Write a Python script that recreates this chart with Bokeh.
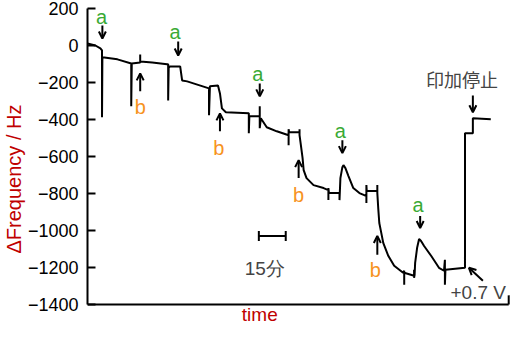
from bokeh.plotting import figure
from bokeh.models import Range1d, FixedTicker, Label, Arrow, OpenHead, Title
from bokeh.embed import file_html
from bokeh.resources import INLINE

# ---- data (time in minutes, frequency shift in Hz) ----
time_min = [0, 4.4, 7.2, 8.1, 8.1, 8.3, 9.4, 16.7, 24.4, 24.4, 24.7, 29.4, 29.4, 29.4,
            36.1, 44.4, 45.0, 45.0, 45.3, 46.1, 51.7, 52.8, 55.6, 67.8, 67.8, 68.3,
            72.8, 73.9, 75.0, 77.2, 90.0, 90.0, 90.3, 96.1, 96.1, 96.1, 96.7, 97.8,
            100.0, 105.6, 112.2, 112.2, 112.2, 112.5, 118.3, 118.3, 118.3, 118.9,
            120.0, 120.6, 122.2, 126.1, 131.7, 134.4, 134.4, 134.4, 134.7, 140.6,
            140.6, 141.1, 142.2, 142.8, 143.9, 145.6, 148.3, 151.7, 154.4, 155.6,
            155.6, 155.6, 155.8, 161.7, 161.7, 161.7, 162.2, 162.8, 163.9, 165.0,
            167.8, 171.1, 176.1, 176.7, 176.7, 176.7, 182.2, 182.2, 182.2, 182.5,
            182.8, 183.9, 185.0, 186.1, 187.8, 191.7, 196.1, 198.9, 199.4, 199.4,
            199.7, 210.6, 210.6, 215.0, 215.0, 225.0]
freq_hz = [11, 0, -16, -27, -388, -65, -65, -75, -97, -329, -97, -92, -49, -86,
           -92, -102, -102, -297, -119, -113, -113, -189, -194, -232, -377, -221,
           -216, -259, -340, -361, -367, -474, -383, -383, -329, -447, -394, -410,
           -442, -464, -485, -539, -453, -469, -469, -453, -485, -528,
           -609, -674, -717, -755, -771, -782, -836, -771, -798, -798,
           -836, -717, -658, -647, -663, -706, -771, -798, -809, -814,
           -852, -755, -787, -787, -755, -798, -879, -960, -1013, -1067,
           -1137, -1191, -1229, -1218, -1294, -1229, -1245, -1213, -1256, -1240,
           -1175, -1094, -1046, -1057, -1084, -1137, -1202, -1218, -1159, -1294,
           -1213, -1202, -474, -474, -394, -399]

y_ticks = [200, 0, -200, -400, -600, -800, -1000, -1200, -1400]
y_min, y_max = -1400, 200
x_end = 235
x_title = "time"
y_title = "ΔFrequency / Hz"

# injection markers: (label, label_t, label_f, arrow_t, f_start, f_end)
markers = [
    ("a", 7.8, 156, 8.3, 108, 38),
    ("b", 29.4, -334, 29.4, -248, -151),
    ("a", 48.9, 75, 50.6, 22, -54),
    ("b", 73.3, -555, 73.9, -464, -367),
    ("a", 95.0, -156, 96.1, -205, -275),
    ("b", 117.8, -809, 117.8, -717, -620),
    ("a", 141.1, -464, 142.2, -512, -582),
    ("b", 160.6, -1213, 161.7, -1132, -1030),
    ("a", 184.4, -863, 185.6, -922, -987),
]
scale_start, scale_len, scale_f = 95.6, 15, -1030

GREEN = "#3aaa35"
ORANGE = "#f7931e"
DARKRED = "#c00000"
FONT = "Liberation Sans"

# the frame runs down to the bottom of the figure so that the x title fits;
# the y axis line is bounded to the data range and the x axis is drawn at y_min
p = figure(width=510, height=325, output_backend="svg", toolbar_location=None,
           x_range=Range1d(0, 236), y_range=Range1d(-1514, y_max),
           x_axis_location=None,
           min_border_left=87, min_border_right=0, min_border_top=8,
           min_border_bottom=0)
p.outline_line_color = None
p.xgrid.visible = False
p.ygrid.visible = False
p.background_fill_color = "white"
p.border_fill_color = "white"

p.yaxis.bounds = (y_min, y_max)
p.yaxis.ticker = FixedTicker(ticks=y_ticks)
p.yaxis.major_tick_in = 8
p.yaxis.major_tick_out = 0
p.yaxis.minor_tick_line_color = None
p.yaxis.axis_line_width = 2
p.yaxis.major_tick_line_width = 2
p.yaxis.major_label_text_font = FONT
p.yaxis.major_label_text_font_size = "18px"
p.yaxis.major_label_text_color = "black"
p.yaxis.major_label_standoff = 9

p.add_layout(Title(text=y_title, align="left", offset=72, text_font=FONT,
                   text_font_size="20px", text_font_style="normal",
                   text_color=DARKRED, standoff=0), "left")

# x axis line with its end tick
p.segment(x0=[0], y0=[y_min], x1=[x_end], y1=[y_min], line_color="black", line_width=2)
p.segment(x0=[x_end], y0=[y_min], x1=[x_end], y1=[y_min + 49], line_color="black",
          line_width=2)
p.add_layout(Label(x=96.1, y=-1454, text=x_title, text_color=DARKRED, text_font=FONT,
                   text_font_size="19px", text_align="center", text_baseline="middle"))

p.line(time_min, freq_hz, line_color="black", line_width=2)

for lab, lt, lf, at, fs, fe in markers:
    col = GREEN if lab == "a" else ORANGE
    p.add_layout(Label(x=lt, y=lf, text=lab, text_color=col, text_font=FONT,
                       text_font_size="20px", text_align="center",
                       text_baseline="middle"))
    p.add_layout(Arrow(x_start=at, y_start=fs, x_end=at, y_end=fe,
                       line_width=2, line_color="black",
                       end=OpenHead(size=7, line_width=2, line_color="black")))

# stop of applied voltage
p.add_layout(Label(x=208.9, y=-183, text="印加停止", text_font="Noto Sans CJK JP",
                   text_font_size="18px", text_align="center", text_baseline="middle"))
p.add_layout(Arrow(x_start=215, y_start=-270, x_end=215, y_end=-361, line_width=2,
                   end=OpenHead(size=7, line_width=2)))
# +0.7 V
p.add_layout(Label(x=218.0, y=-1337, text="+0.7 V", text_font=FONT,
                   text_font_size="19px", text_align="center", text_baseline="middle"))
p.add_layout(Arrow(x_start=220.6, y_start=-1272, x_end=212.8, y_end=-1202, line_width=2,
                   end=OpenHead(size=7, line_width=2)))

# scale bar 15 min
p.segment(x0=[scale_start], y0=[scale_f], x1=[scale_start + scale_len], y1=[scale_f],
          line_color="black", line_width=2)
p.segment(x0=[scale_start, scale_start + scale_len], y0=[scale_f + 27, scale_f + 27],
          x1=[scale_start, scale_start + scale_len], y1=[scale_f - 27, scale_f - 27],
          line_color="black", line_width=2)
p.add_layout(Label(x=98.9, y=-1208, text="15分", text_font=FONT,
                   text_font_size="19px", text_align="center", text_baseline="middle"))

open("out.html", "w").write(file_html(p, INLINE))
